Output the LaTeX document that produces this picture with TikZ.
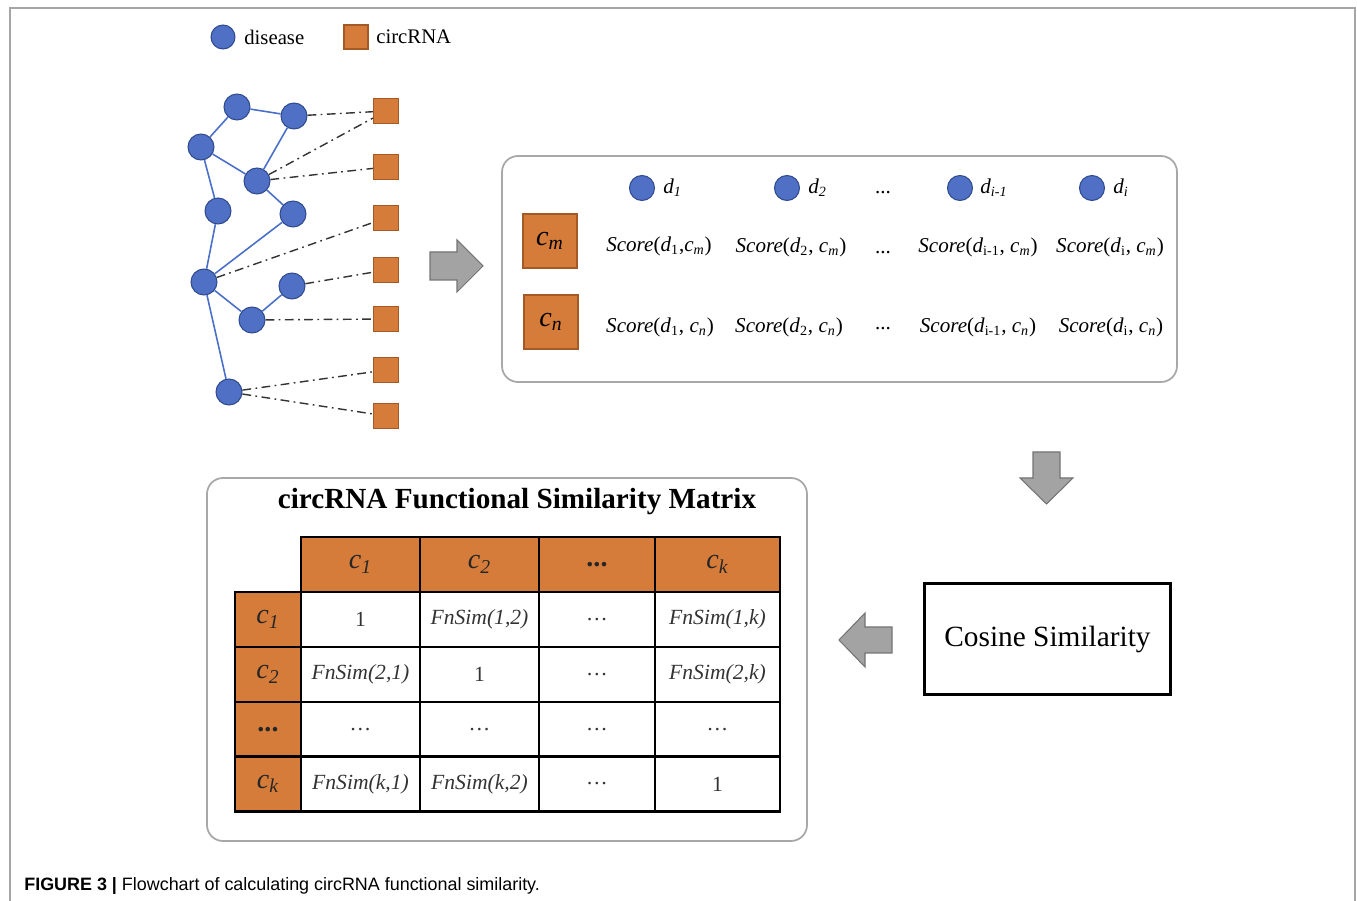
\documentclass[tikz,border=0pt]{standalone}
\usepackage{fontspec}
\setmainfont{Liberation Serif}
\setsansfont{Liberation Sans}
\usetikzlibrary{positioning}

\definecolor{disblue}{HTML}{4F70C4}
\definecolor{disedge}{HTML}{2F4B8E}
\definecolor{circorange}{HTML}{D57C3A}
\definecolor{circedge}{HTML}{A45A27}
\definecolor{linkblue}{HTML}{4A6FC9}
\definecolor{arrowgray}{HTML}{A3A3A3}
\definecolor{arrowedge}{HTML}{747474}
\definecolor{boxgray}{HTML}{A8A8A8}

\newcommand{\scoreof}[2]{\textit{Score}(#1#2)}
\newcommand{\dsub}[1]{\textit{d}\textsubscript{#1}}
\newcommand{\csub}[1]{\textit{c\textsubscript{#1}}}

\tikzset{
  dis/.style={circle, draw=disedge, fill=disblue, line width=0.6pt, minimum size=0.52cm, inner sep=0pt},
  circ/.style={rectangle, draw=circedge, fill=circorange, line width=0.6pt, minimum size=0.5cm, inner sep=0pt},
  link/.style={draw=linkblue, line width=0.9pt},
  assoc/.style={draw=black!80, line width=0.8pt, dash pattern=on 5pt off 2.5pt on 1pt off 2.5pt},
  panel/.style={draw=boxgray, line width=1pt, rounded corners=0.32cm},
  bigarrow/.style={draw=arrowedge, fill=arrowgray, line width=0.6pt},
  lbl/.style={inner sep=0pt, font=\fontsize{12}{14}\selectfont},
  cell/.style={rectangle, draw=black, line width=1.2pt, minimum height=1.1cm, inner sep=0pt, text=black!80, font=\fontsize{12.3}{14}\selectfont},
  head/.style={cell, fill=circorange, text=black!85, font=\fontsize{16}{18}\selectfont\itshape},
}

\begin{document}
\begin{tikzpicture}[x=0.02cm, y=-0.02cm]
    \useasboundingbox (0,0) rectangle (1357,901);
    \draw[gray!70, line width=0.8pt] (10,901) -- (10,8) -- (1355,8) -- (1355,901);

    % legend
    \node[dis, minimum size=0.48cm] (legd) at (223,37) {};
    \node[lbl, anchor=west, font=\fontsize{11.8}{14}\selectfont] (legdt) at (244,37) {disease};
    \node[circ, minimum size=0.48cm] (legc) at (356,37) {};
    \node[lbl, anchor=west, font=\fontsize{11.8}{14}\selectfont] (legct) at (376,37) {circRNA};

    % disease network
    \node[dis] (v1) at (237,107) {};
    \node[dis] (v2) at (294,116) {};
    \node[dis] (v3) at (201,147) {};
    \node[dis] (v4) at (257,181) {};
    \node[dis] (v5) at (218,211) {};
    \node[dis] (v6) at (293,214) {};
    \node[dis] (v7) at (204,282) {};
    \node[dis] (v8) at (292,286) {};
    \node[dis] (v9) at (252,320) {};
    \node[dis] (v10) at (229,392) {};
    \draw[link] (v3)--(v1)--(v2)--(v4)--(v3);
    \draw[link] (v4)--(v6)--(v7)--(v5)--(v3);
    \draw[link] (v7)--(v9)--(v8);
    \draw[link] (v7)--(v10);

    % circRNAs
    \node[circ] (s1) at (386,111) {};
    \node[circ] (s2) at (386,167) {};
    \node[circ] (s3) at (386,218) {};
    \node[circ] (s4) at (386,270) {};
    \node[circ] (s5) at (386,319) {};
    \node[circ] (s6) at (386,370) {};
    \node[circ] (s7) at (386,416) {};
    \draw[assoc] (v2)--(s1);
    \draw[assoc] (v4)--(s1);
    \draw[assoc] (v4)--(s2);
    \draw[assoc] (v7)--(s3);
    \draw[assoc] (v8)--(s4);
    \draw[assoc] (v9)--(s5);
    \draw[assoc] (v10)--(s6);
    \draw[assoc] (v10)--(s7);

    \draw[bigarrow] (430,252)--(457,252)--(457,240)--(483,266)--(457,292)--(457,280)--(430,280)--cycle;

    % score panel
    \draw[panel] (502,156) rectangle (1177,382);
    \node[dis, minimum size=0.5cm] (pd1) at (642,188) {};
    \node[dis, minimum size=0.5cm] (pd2) at (787,188) {};
    \node[dis, minimum size=0.5cm] (pd3) at (960,188) {};
    \node[dis, minimum size=0.5cm] (pd4) at (1092,188) {};
    \node[lbl, right=0.16cm of pd1] (pd1t) {\textit{d\textsubscript{1}}};
    \node[lbl, right=0.16cm of pd2] (pd2t) {\textit{d\textsubscript{2}}};
    \node[lbl, right=0.14cm of pd3] (pd3t) {\textit{d\textsubscript{i-1}}};
    \node[lbl, right=0.16cm of pd4] (pd4t) {\textit{d\textsubscript{i}}};
    \node[lbl] (pdots) at (883,193) {...};

    \node[circ, minimum size=1.08cm] (cm) at (550,241) {};
    \node[circ, minimum size=1.08cm] (cn) at (551,322) {};
    \node[lbl, font=\fontsize{16}{18}\selectfont] at (cm) {\csub{m}};
    \node[lbl, font=\fontsize{16}{18}\selectfont] at (cn) {\csub{n}};

    \node[lbl] (sm1) at (659,246) {\scoreof{\dsub{1}}{,\csub{m}}};
    \node[lbl] (sm2) at (791,247) {\scoreof{\dsub{2}}{, \csub{m}}};
    \node[lbl] (smd) at (883,253) {...};
    \node[lbl] (sm3) at (978,247) {\scoreof{\dsub{i-1}}{, \csub{m}}};
    \node[lbl] (sm4) at (1110,247) {\scoreof{\dsub{i}}{, \csub{m}}};
    \node[lbl] (sn1) at (660,327) {\scoreof{\dsub{1}}{, \csub{n}}};
    \node[lbl] (sn2) at (789,327) {\scoreof{\dsub{2}}{, \csub{n}}};
    \node[lbl] (snd) at (883,329) {...};
    \node[lbl] (sn3) at (978,327) {\scoreof{\dsub{i-1}}{, \csub{n}}};
    \node[lbl] (sn4) at (1111,327) {\scoreof{\dsub{i}}{, \csub{n}}};

    \draw[bigarrow] (1033,452)--(1060,452)--(1060,478)--(1073,478)--(1046.5,504)--(1020,478)--(1033,478)--cycle;

    % cosine similarity
    \node[draw, line width=1.2pt, minimum width=4.92cm, minimum height=2.22cm, font=\fontsize{16.7}{19}\selectfont] (cos) at (1047.5,639) {Cosine Similarity};
    \draw[bigarrow] (892,627)--(865,627)--(865,613)--(839,640)--(865,667)--(865,653)--(892,653)--cycle;

    % similarity matrix
    \draw[panel] (207,478) rectangle (807,841);
    \node[font=\fontsize{16.6}{19}\selectfont\bfseries] (title) at (517,502) {circRNA Functional Similarity Matrix};

    \node[head, minimum width=2.38cm] (h1) at (360.5,564.5) {c\textsubscript{1}};
    \node[head, minimum width=2.38cm] (h2) at (479.5,564.5) {c\textsubscript{2}};
    \node[head, minimum width=2.32cm] (h3) at (597,564.5) {\upshape\textbf{...}};
    \node[head, minimum width=2.5cm] (h4) at (717.5,564.5) {c\textsubscript{k}};

    \node[head, minimum width=1.32cm] (r1) at (268,619.5) {c\textsubscript{1}};
    \node[cell, minimum width=2.38cm] (m11) at (360.5,619.5) {1};
    \node[cell, minimum width=2.38cm] (m12) at (479.5,619.5) {\textit{FnSim(1,2)}};
    \node[cell, minimum width=2.32cm] (m13) at (597,619.5) {\dots};
    \node[cell, minimum width=2.5cm] (m14) at (717.5,619.5) {\textit{FnSim(1,k)}};

    \node[head, minimum width=1.32cm] (r2) at (268,674.5) {c\textsubscript{2}};
    \node[cell, minimum width=2.38cm] (m21) at (360.5,674.5) {\textit{FnSim(2,1)}};
    \node[cell, minimum width=2.38cm] (m22) at (479.5,674.5) {1};
    \node[cell, minimum width=2.32cm] (m23) at (597,674.5) {\dots};
    \node[cell, minimum width=2.5cm] (m24) at (717.5,674.5) {\textit{FnSim(2,k)}};

    \node[head, minimum width=1.32cm] (r3) at (268,729.5) {\upshape\textbf{...}};
    \node[cell, minimum width=2.38cm] (m31) at (360.5,729.5) {\dots};
    \node[cell, minimum width=2.38cm] (m32) at (479.5,729.5) {\dots};
    \node[cell, minimum width=2.32cm] (m33) at (597,729.5) {\dots};
    \node[cell, minimum width=2.5cm] (m34) at (717.5,729.5) {\dots};

    \node[head, minimum width=1.32cm] (r4) at (268,784) {c\textsubscript{k}};
    \node[cell, minimum width=2.38cm] (m41) at (360.5,784) {\textit{FnSim(k,1)}};
    \node[cell, minimum width=2.38cm] (m42) at (479.5,784) {\textit{FnSim(k,2)}};
    \node[cell, minimum width=2.32cm] (m43) at (597,784) {\dots};
    \node[cell, minimum width=2.5cm] (m44) at (717.5,784) {1};

    % caption
    \node[anchor=west, inner sep=0pt, font=\sffamily\fontsize{10.2}{12}\selectfont] (cap) at (24,886) {\textbf{FIGURE 3 |} Flowchart of calculating circRNA functional similarity.};
\end{tikzpicture}
\end{document}
